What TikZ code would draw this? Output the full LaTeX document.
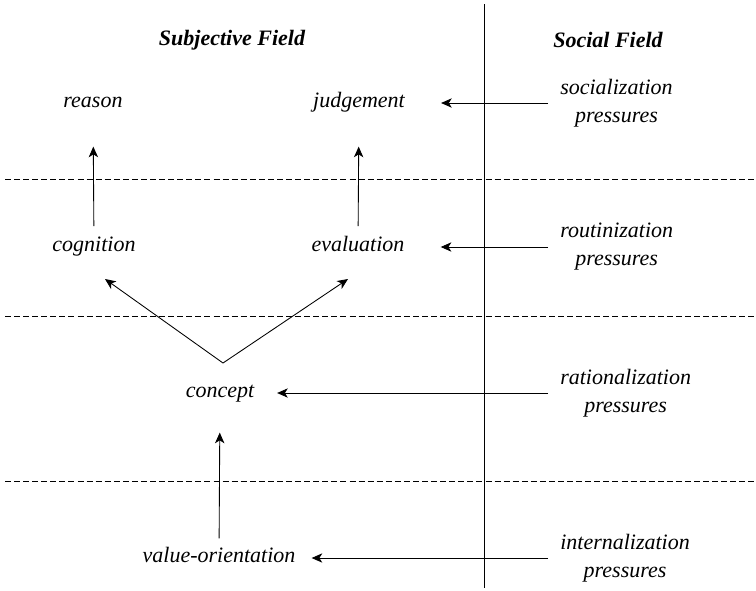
\documentclass[tikz,border=0pt]{standalone}
\usepackage{fontspec}
\setmainfont{Liberation Serif}
\usetikzlibrary{arrows.meta}
\tikzset{
    term/.style={font=\fontsize{16.5}{21}\selectfont\itshape, inner sep=0pt, text height=11pt, text depth=4pt},
    fieldhead/.style={font=\fontsize{16.5}{21}\selectfont\bfseries\itshape, inner sep=0pt},
    press/.style={font=\fontsize{16.5}{21}\selectfont\itshape, align=center, anchor=west, inner xsep=9pt, inner ysep=0pt},
    arr/.style={line width=0.65pt, -{Stealth[length=8pt,width=7pt,inset=2.2pt]}},
    sep/.style={line width=0.6pt, dash pattern=on 4.5pt off 2.3pt}
}
\begin{document}
\begin{tikzpicture}[x=0.75pt, y=-0.75pt]
                \useasboundingbox (0,0) rectangle (756,590);
                \node[fieldhead] (subj) at (232,40) {Subjective Field};
                \node[fieldhead] (soci) at (608,40) {Social Field};
                \draw[line width=0.7pt] (484,4) -- (484,588);
                \foreach \y in {179,316,481}
                    \draw[sep] (5,\y) -- (756,\y);
                \node[term] (reason) at (93,103) {reason};
                \node[term] (judgement) at (359,103) {judgement};
                \node[term] (cognition) at (94,247) {cognition};
                \node[term] (evaluation) at (358,247) {evaluation};
                \node[term] (concept) at (220,393) {concept};
                \node[term] (valor) at (219,558) {value-orientation};
                \node[press] (socp) at (548,103) {socialization\\pressures};
                \node[press] (routp) at (548,247) {routinization\\pressures};
                \node[press] (ratp) at (548,393) {rationalization\\pressures};
                \node[press] (intp) at (548,558) {internalization\\pressures};
                \coordinate (apex) at (223,363);
                \draw[arr, shorten <=8pt, shorten >=25pt] (cognition) -- (reason);
                \draw[arr, shorten <=8pt, shorten >=25pt] (evaluation) -- (judgement);
                \draw[arr, shorten <=7pt, shorten >=22pt] (valor) -- (concept);
                \draw[arr] (apex) -- ([shift={(11,32)}]cognition.center);
                \draw[arr] (apex) -- ([shift={(-10,32)}]evaluation.center);
                \draw[arr, shorten >=27pt] (socp.west) -- (judgement);
                \draw[arr, shorten >=27pt] (routp.west) -- (evaluation);
                \draw[arr, shorten >=17pt] (ratp.west) -- (concept);
                \draw[arr, shorten >=12pt] (intp.west) -- (valor);
\end{tikzpicture}
\end{document}
